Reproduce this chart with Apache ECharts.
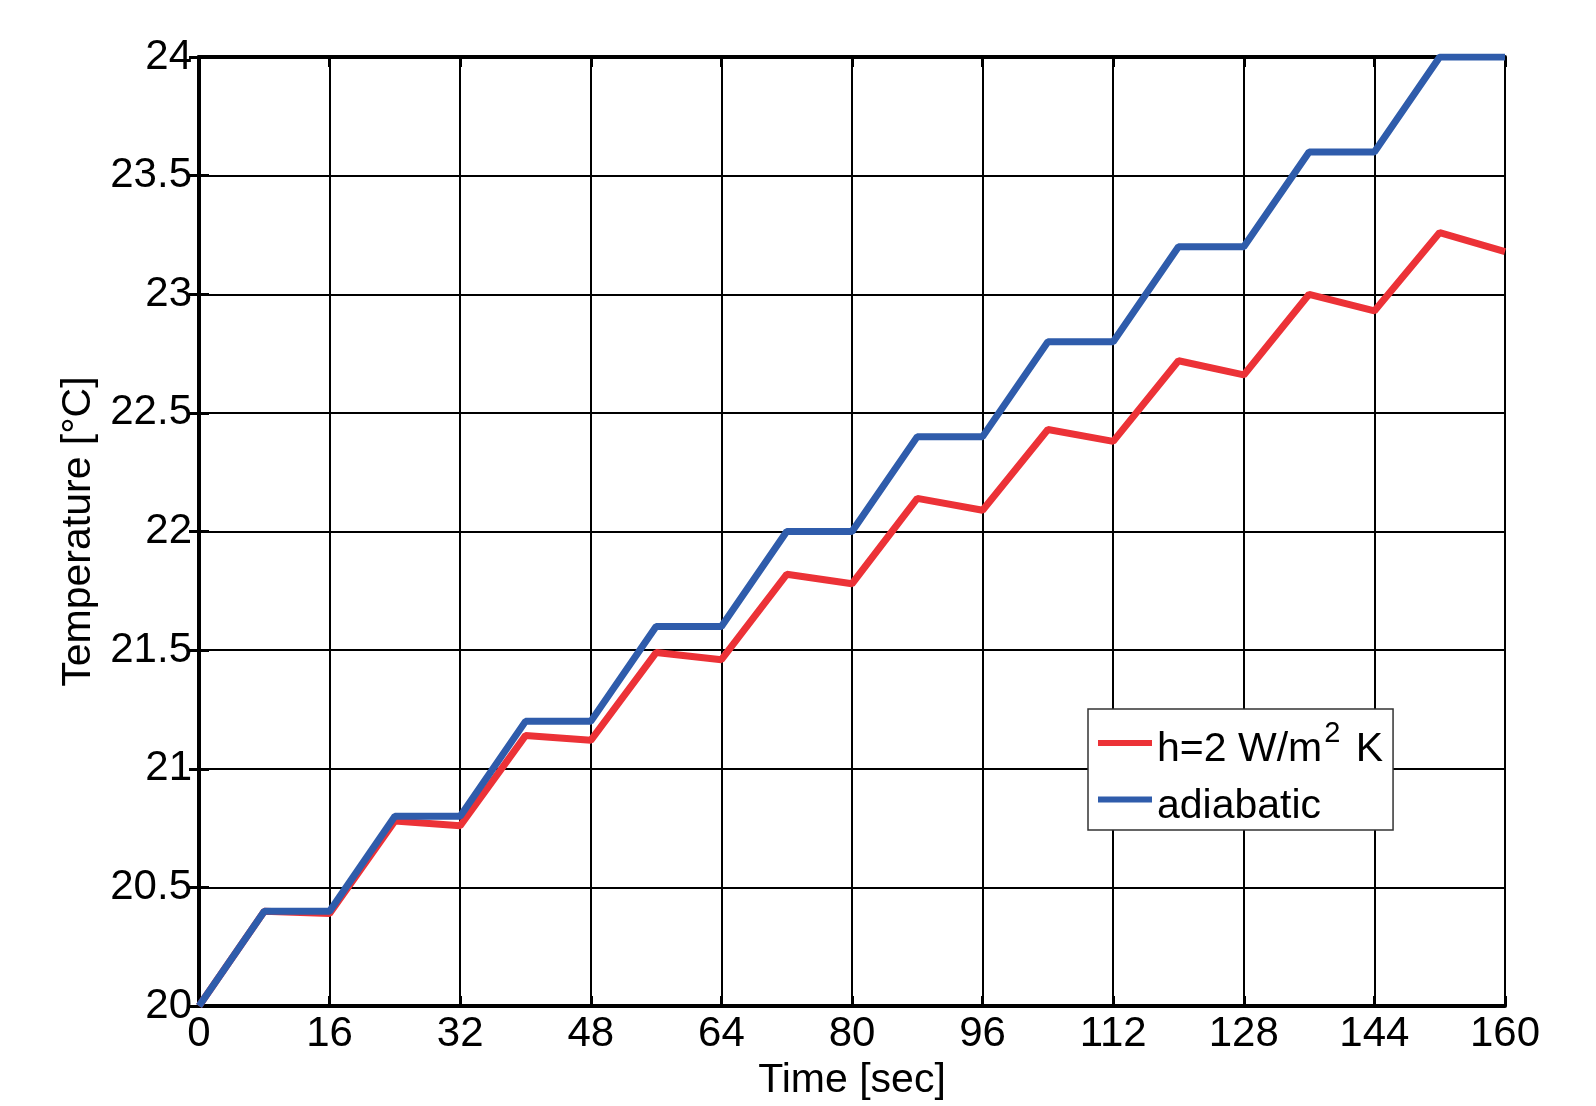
<!DOCTYPE html>
<html>
<head>
<meta charset="utf-8">
<script src="https://cdn.jsdelivr.net/npm/echarts@6/dist/echarts.min.js"></script>
<style>
  html, body { margin: 0; padding: 0; background: #fff; }
  #chart { width: 1596px; height: 1106px; }
</style>
</head>
<body>
<div id="chart"></div>
<script>
// time in seconds (heater on for 8 s, off for 8 s)
const timeSec = [0, 8, 16, 24, 32, 40, 48, 56, 64, 72, 80, 88, 96, 104, 112, 120, 128, 136, 144, 152, 160];
const tempConvective = [20, 20.4, 20.39, 20.78, 20.76, 21.14, 21.12, 21.49, 21.46, 21.82, 21.78, 22.14, 22.09, 22.43, 22.38, 22.72, 22.66, 23.0, 22.93, 23.26, 23.18];
const tempAdiabatic = [20, 20.4, 20.4, 20.8, 20.8, 21.2, 21.2, 21.6, 21.6, 22.0, 22.0, 22.4, 22.4, 22.8, 22.8, 23.2, 23.2, 23.6, 23.6, 24.0, 24.0];
const seriesNames = ["h=2 W/m2 K", "adiabatic"];

const font = "Liberation Sans, Arial, sans-serif";
const pairs = (ys) => timeSec.map((t, i) => [t, ys[i]]);

const chart = echarts.init(document.getElementById("chart"));

const frameAxis = {
  axisLine: { show: true, lineStyle: { color: "#000", width: 4 } },
  axisTick: { show: true, inside: true, length: 10, lineStyle: { color: "#000", width: 3 } },
  axisLabel: { show: false },
  splitLine: { show: false },
};

chart.setOption({
  animation: false,
  backgroundColor: "#fff",
  grid: { left: 199, right: 91, top: 57, bottom: 96 },
  legend: {
    orient: "vertical",
    left: 1088,
    top: 709,
    padding: [7, 10, 3, 10],
    itemGap: -8,
    itemWidth: 54,
    itemHeight: 6,
    icon: "rect",
    borderColor: "#333",
    borderWidth: 1.5,
    backgroundColor: "#fff",
    data: seriesNames,
    formatter: (name) => name === seriesNames[0] ? "h=2 W/m{sup|2} K" : name,
    textStyle: {
      fontFamily: font,
      fontSize: 41,
      color: "#000",
      lineHeight: 40,
      padding: [14, 0, 0, 0],
      rich: {
        // superscript: raised by bottom padding
        sup: { fontFamily: font, fontSize: 29, color: "#000", lineHeight: 6, padding: [0, 4, 32, 2] },
      },
    },
  },
  xAxis: [
    {
      type: "value",
      min: 0,
      max: 160,
      interval: 16,
      name: "Time [sec]",
      nameLocation: "middle",
      nameGap: 50,
      nameTextStyle: { fontFamily: font, fontSize: 41, color: "#000" },
      axisLine: { show: true, onZero: false, lineStyle: { color: "#000", width: 4 } },
      axisTick: { show: true, inside: true, length: 10, lineStyle: { color: "#000", width: 3 } },
      axisLabel: { fontFamily: font, fontSize: 42, color: "#000", margin: 7 },
      splitLine: { show: true, lineStyle: { color: "#000", width: 2 } },
    },
    Object.assign({ type: "value", position: "top", min: 0, max: 160, interval: 16 }, frameAxis),
  ],
  yAxis: [
    {
      type: "value",
      min: 20,
      max: 24,
      interval: 0.5,
      name: "Temperature [°C]",
      nameLocation: "middle",
      nameGap: 100,
      nameTextStyle: { fontFamily: font, fontSize: 41, color: "#000" },
      axisLine: { show: true, onZero: false, lineStyle: { color: "#000", width: 4 } },
      axisTick: { show: true, inside: true, length: 10, lineStyle: { color: "#000", width: 3 } },
      axisLabel: { fontFamily: font, fontSize: 42, color: "#000", margin: 7 },
      splitLine: { show: true, lineStyle: { color: "#000", width: 2 } },
    },
    Object.assign({ type: "value", position: "right", min: 20, max: 24, interval: 0.5 }, frameAxis),
  ],
  series: [
    {
      name: seriesNames[0],
      type: "line",
      data: pairs(tempConvective),
      showSymbol: false,
      color: "#ec3237",
      lineStyle: { color: "#ec3237", width: 7 },
    },
    {
      name: seriesNames[1],
      type: "line",
      data: pairs(tempAdiabatic),
      showSymbol: false,
      color: "#2f5cab",
      lineStyle: { color: "#2f5cab", width: 7 },
    },
  ],
});
</script>
</body>
</html>
